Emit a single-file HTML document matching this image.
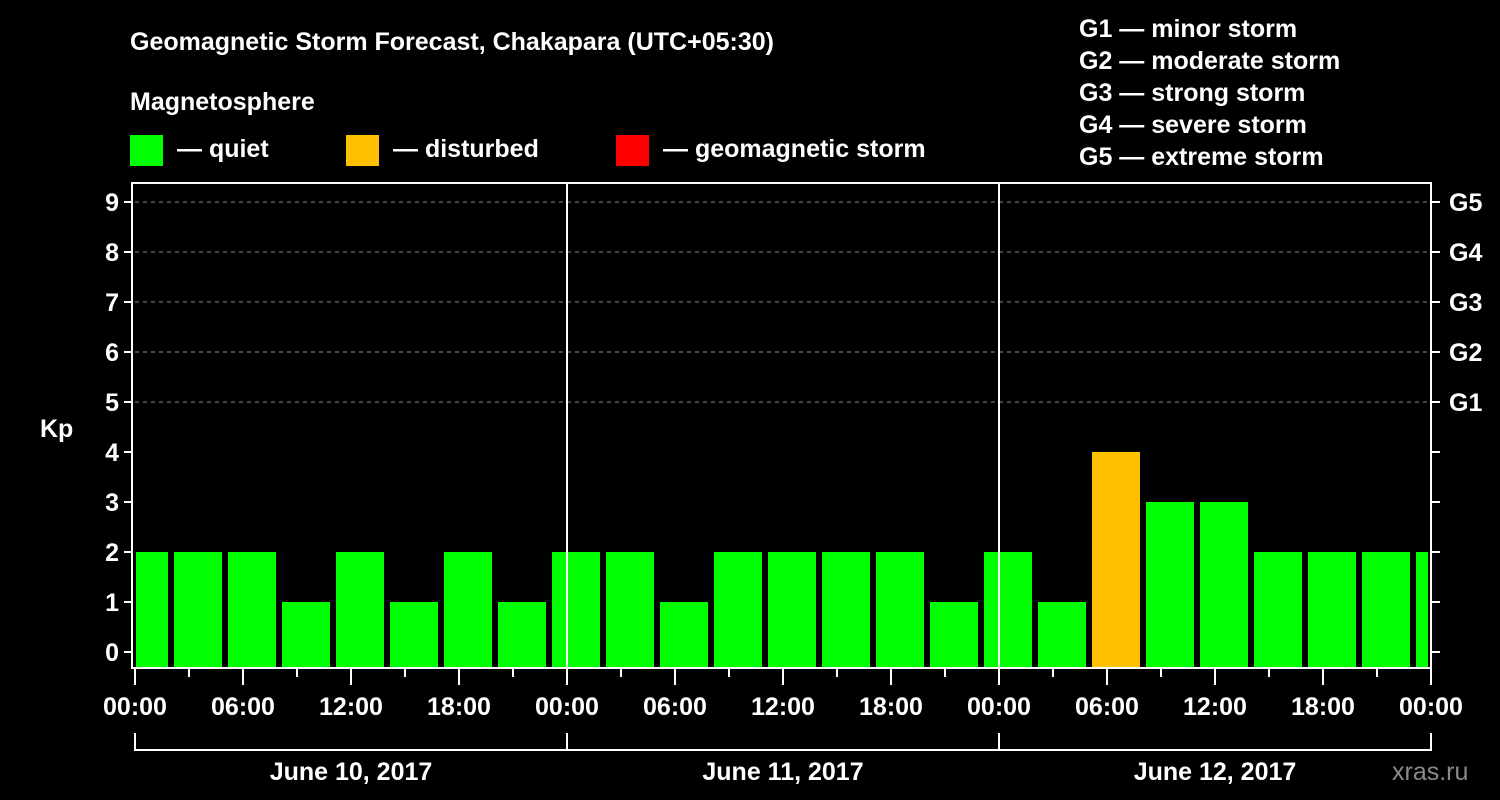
<!DOCTYPE html>
<html><head><meta charset="utf-8"><style>
body{margin:0;background:#000;width:1500px;height:800px;overflow:hidden}
svg{display:block}
text{font-family:"Liberation Sans",sans-serif;font-weight:bold;fill:#fff}
</style></head><body>
<svg id="chart" width="1500" height="800" xmlns="http://www.w3.org/2000/svg">
<text x="130" y="50" font-size="25">Geomagnetic Storm Forecast, Chakapara (UTC+05:30)</text>
<text x="130" y="110" font-size="25">Magnetosphere</text>
<g><rect x="130" y="135" width="33" height="31" fill="#00ff00"/><text x="177" y="157" font-size="25">— quiet</text></g>
<g><rect x="346" y="135" width="33" height="31" fill="#ffc000"/><text x="393" y="157" font-size="25">— disturbed</text></g>
<g><rect x="616" y="135" width="33" height="31" fill="#ff0000"/><text x="663" y="157" font-size="25">— geomagnetic storm</text></g>
<g font-size="25">
<text x="1079" y="37">G1 — minor storm</text>
<text x="1079" y="69">G2 — moderate storm</text>
<text x="1079" y="101">G3 — strong storm</text>
<text x="1079" y="133">G4 — severe storm</text>
<text x="1079" y="165">G5 — extreme storm</text>
</g>
<text x="40" y="437" font-size="25">Kp</text>
<text x="1392" y="780" font-size="25" fill="#888" style="fill:#8a8a8a;font-weight:normal">xras.ru</text>
<g id="plot"></g>
</svg>
<script>
const hours = [0.5,3.5,6.5,9.5,12.5,15.5,18.5,21.5,24.5,27.5,30.5,33.5,36.5,39.5,42.5,45.5,48.5,51.5,54.5,57.5,60.5,63.5,66.5,69.5,72.5];
const kpValues = [2,2,2,1,2,1,2,1,2,2,1,2,2,2,2,1,2,1,4,3,3,2,2,2,2];
const yTicks = [0,1,2,3,4,5,6,7,8,9];
const gLabels = ["G1","G2","G3","G4","G5"];
const xTickLabels = ["00:00","06:00","12:00","18:00","00:00","06:00","12:00","18:00","00:00","06:00","12:00","18:00","00:00"];
const dayLabels = ["June 10, 2017","June 11, 2017","June 12, 2017"];

const X0=135,X1=1431,Yt=183,Yb=668;
const x = h => X0 + h*18;
const y = v => 652 - v*50;
const ns="http://www.w3.org/2000/svg";
const g=document.getElementById('plot');
function mk(t,a,p){const e=document.createElementNS(ns,t);for(const k in a)e.setAttribute(k,a[k]);(p||g).appendChild(e);return e;}
const color = v => v>=5?'#ff0000':(v>=4?'#ffc000':'#00ff00');

// grid
yTicks.forEach(v=>{ if(v>=5){const l=mk('line',{x1:X0,x2:X1,y1:y(v),y2:y(v),stroke:'#888','stroke-dasharray':'4,4','stroke-width':1});

}});
// bars
const clip=mk('clipPath',{id:'pc'});mk('rect',{x:X0+1,y:Yt,width:X1-X0-4,height:Yb-Yt},clip);
hours.forEach((h,i)=>{const v=kpValues[i];
const r=mk('rect',{x:x(h)-24,y:y(v),width:48,height:Yb-1-y(v),fill:color(v),'clip-path':'url(#pc)'});

});
// day separators
[1,2].forEach(d=>{const l=mk('line',{x1:x(d*24),x2:x(d*24),y1:Yt,y2:Yb,stroke:'#fff','stroke-width':2});

});
// frame
const f=mk('rect',{x:X0-3,y:Yt,width:X1-X0+3,height:Yb-Yt,fill:'none',stroke:'#fff','stroke-width':2});


// y ticks
yTicks.forEach(v=>{
mk('line',{x1:X0-11,x2:X0-3,y1:y(v),y2:y(v),stroke:'#fff','stroke-width':2});
mk('line',{x1:X1,x2:X1+9,y1:y(v),y2:y(v),stroke:'#fff','stroke-width':2});
const t=mk('text',{x:X0-16,y:y(v)+9,'font-size':25,'text-anchor':'end'});t.textContent=v;


});
gLabels.forEach((s,i)=>{const t=mk('text',{x:1449,y:y(5+i)+9,'font-size':25});t.textContent=s;

});
// x ticks
for(let h=0;h<=72;h+=3){const major=h%6===0;mk('line',{x1:x(h),x2:x(h),y1:Yb,y2:Yb+(major?17:9),stroke:'#fff','stroke-width':2});}
xTickLabels.forEach((s,i)=>{const t=mk('text',{x:x(i*6),y:715,'font-size':25,'text-anchor':'middle'});t.textContent=s;

});
// day brackets
dayLabels.forEach((s,i)=>{
mk('path',{d:`M${x(i*24)} 733 V750 H${x(i*24+24)} V733`,fill:'none',stroke:'#fff','stroke-width':2});
const t=mk('text',{x:x(i*24+12),y:780,'font-size':25,'text-anchor':'middle'});t.textContent=s;

});
</script>
</body></html>
